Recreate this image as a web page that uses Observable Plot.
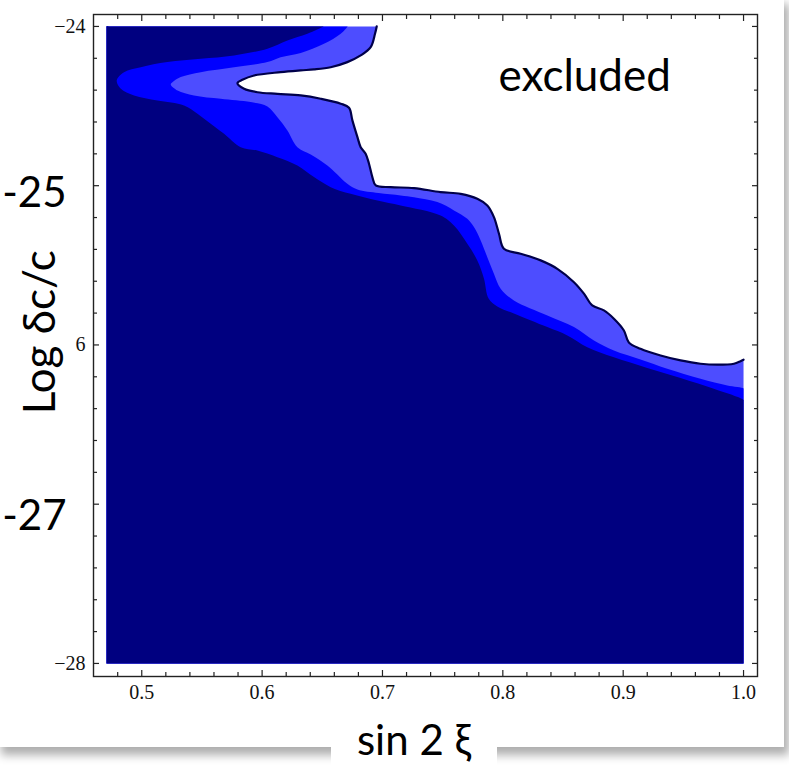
<!DOCTYPE html>
<html>
<head>
<meta charset="utf-8">
<script src="https://cdn.jsdelivr.net/npm/d3@7"></script>
<script src="https://cdn.jsdelivr.net/npm/@observablehq/plot@0.6"></script>
<style>
  html, body { margin: 0; padding: 0; background: #fff; }
  #wrap { position: relative; width: 789px; height: 765px; overflow: hidden; background: #fff; }
  #card { position: absolute; left: 0; top: 0; width: 784px; height: 747px; background: #fff;
          box-shadow: 3px 6px 9px 2px rgba(0,0,0,0.32); }
  #chart { position: absolute; left: 0; top: 0; }
  #xtitle { position: absolute; left: 331px; top: 719px; width: 166px; height: 46px; background: #fff;
            font-family: Lato, "Open Sans", sans-serif; font-size: 42px; line-height: 40px;
            text-align: center; color: #000; white-space: pre; }
</style>
</head>
<body>
<div id="wrap">
  <div id="card"></div>
  <div id="chart"></div>
  <div id="xtitle">sin 2 ξ</div>
</div>
<script>
// Extent of the computed region: sin 2ξ along x, Log δc/c along y
const xExtent = [0.4707, 1.0];
const yExtent = [-28, -24];

// Contour boundaries, traced from the top edge (y = -24) down to the right edge (x = 1).
// Below navyEdge: dark region; between navyEdge and blueEdge: blue band;
// between blueEdge and lightEdge: light band; beyond lightEdge: excluded.
const navyEdge = [
  [0.6512, -24.000], [0.6376, -24.046], [0.6210, -24.088], [0.6044, -24.140],
  [0.5767, -24.182], [0.5490, -24.203], [0.5213, -24.224], [0.4992, -24.256],
  [0.4853, -24.287], [0.4792, -24.339], [0.4826, -24.391], [0.4936, -24.433],
  [0.5130, -24.465], [0.5351, -24.496], [0.5463, -24.548], [0.5573, -24.611],
  [0.5684, -24.674], [0.5822, -24.758], [0.5961, -24.779], [0.6127, -24.821],
  [0.6293, -24.873], [0.6431, -24.946], [0.6570, -25.009], [0.6736, -25.051],
  [0.6958, -25.093], [0.7151, -25.124], [0.7483, -25.187], [0.7594, -25.250],
  [0.7705, -25.365], [0.7788, -25.469], [0.7843, -25.582], [0.7882, -25.708],
  [0.7954, -25.758], [0.8092, -25.802], [0.8370, -25.888], [0.8536, -25.940],
  [0.8702, -26.014], [0.8923, -26.078], [0.9200, -26.144], [0.9477, -26.207],
  [0.9753, -26.275], [1.0000, -26.345]
];

const blueEdge = [
  [0.6711, -24.000], [0.6653, -24.046], [0.6514, -24.109], [0.6321, -24.166],
  [0.6154, -24.193], [0.6044, -24.224], [0.5767, -24.256], [0.5490, -24.287],
  [0.5324, -24.318], [0.5255, -24.350], [0.5241, -24.364], [0.5297, -24.402],
  [0.5434, -24.433], [0.5656, -24.454], [0.5905, -24.475], [0.6044, -24.502],
  [0.6127, -24.570], [0.6210, -24.653], [0.6293, -24.758], [0.6404, -24.804],
  [0.6542, -24.873], [0.6625, -24.929], [0.6708, -24.988], [0.6792, -25.024],
  [0.6968, -25.046], [0.7151, -25.061], [0.7262, -25.072], [0.7456, -25.103],
  [0.7594, -25.155], [0.7705, -25.208], [0.7760, -25.260], [0.7816, -25.344],
  [0.7871, -25.449], [0.7926, -25.553], [0.7982, -25.647], [0.8092, -25.721],
  [0.8370, -25.815], [0.8591, -25.888], [0.8757, -25.972], [0.8923, -26.035],
  [0.9144, -26.091], [0.9366, -26.149], [0.9643, -26.212], [0.9865, -26.254],
  [1.0000, -26.273]
];

const lightEdge = [
  [0.6952, -24.000], [0.6938, -24.046], [0.6902, -24.130], [0.6819, -24.182],
  [0.6708, -24.224], [0.6570, -24.256], [0.6431, -24.270], [0.6321, -24.276],
  [0.6154, -24.287], [0.5933, -24.308], [0.5836, -24.335], [0.5795, -24.356],
  [0.5850, -24.391], [0.5961, -24.413], [0.6127, -24.423], [0.6321, -24.433],
  [0.6487, -24.454], [0.6653, -24.485], [0.6722, -24.511], [0.6750, -24.590],
  [0.6792, -24.695], [0.6819, -24.758], [0.6860, -24.799], [0.6888, -24.862],
  [0.6916, -24.946], [0.6944, -24.998], [0.7068, -25.009], [0.7262, -25.015],
  [0.7483, -25.040], [0.7650, -25.051], [0.7788, -25.082], [0.7871, -25.124],
  [0.7926, -25.197], [0.7968, -25.302], [0.8009, -25.396], [0.8148, -25.427],
  [0.8314, -25.469], [0.8453, -25.522], [0.8591, -25.606], [0.8674, -25.678],
  [0.8743, -25.752], [0.8840, -25.783], [0.8923, -25.835], [0.9006, -25.909],
  [0.9047, -25.984], [0.9144, -26.024], [0.9311, -26.066], [0.9477, -26.097],
  [0.9643, -26.118], [0.9782, -26.124], [0.9920, -26.118], [0.9975, -26.102],
  [1.0000, -26.093]
];

// Frame ticks
const xMajor = [0.5, 0.6, 0.7, 0.8, 0.9, 1.0];
const xMinor = [0.48, 0.52, 0.54, 0.56, 0.58, 0.62, 0.64, 0.66, 0.68, 0.72, 0.74,
                0.76, 0.78, 0.82, 0.84, 0.86, 0.88, 0.92, 0.94, 0.96, 0.98];
const yMajor = [-24, -25, -26, -27, -28];
const yMinor = [-24.2, -24.4, -24.6, -24.8, -25.2, -25.4, -25.6, -25.8,
                -26.2, -26.4, -26.6, -26.8, -27.2, -27.4, -27.6, -27.8];

// Tick labels on the y side: small frame labels and large slide labels
const ySmallTicks = [-24, -26, -28];
const ySmallText = ["\u221224", "6", "\u221228"];
const yBigTicks = [-25, -27];
const yBigText = ["-25", "-27"];

const NAVY = "#000080", BLUE = "#0000ff", LIGHT = "#4d4dff", EDGE = "#00004a", AXIS = "#222";
const BIG = "Lato, 'Open Sans', sans-serif";

// Close a boundary into a region that fills toward the lower-left corner.
// Short runs next to each corner keep the smoothed outline square there.
function region(edge) {
  const [x0, x1] = xExtent, [y0, y1] = yExtent;
  const first = edge[0], last = edge[edge.length - 1];
  const ex = 0.002, ey = 0.006;
  return [...edge,
    [x1, last[1] - ey], [x1, y0 + ey], [x1, y0], [x1 - ex, y0],
    [x0 + ex, y0], [x0, y0], [x0, y0 + ey],
    [x0, y1 - ey], [x0, y1], [x0 + ex, y1],
    [first[0] - ex, y1]];
}

const px = d => d[0], py = d => d[1];
const CURVE = "catmull-rom";

const chart = Plot.plot({
  width: 789,
  height: 722,
  marginLeft: 93,
  marginRight: 32,
  marginTop: 14,
  marginBottom: 46,
  style: {background: "transparent", fontFamily: "'Liberation Serif', 'Times New Roman', serif", fontSize: "20px", color: "#111"},
  x: {domain: [0.4599, 1.0116], label: null},
  y: {domain: [-28.082, -23.925], label: null},
  marks: [
    Plot.line(region(lightEdge), {x: px, y: py, fill: LIGHT, stroke: "none", curve: CURVE}),
    Plot.line(region(blueEdge), {x: px, y: py, fill: BLUE, stroke: "none", curve: CURVE}),
    Plot.line(region(navyEdge), {x: px, y: py, fill: NAVY, stroke: "none", curve: CURVE}),
    Plot.line(lightEdge, {x: px, y: py, stroke: EDGE, strokeWidth: 2.2, strokeLinejoin: "round", curve: CURVE}),
    Plot.frame({stroke: AXIS, strokeWidth: 1.4}),

    // inward ticks on all four sides
    Plot.axisX(xMajor, {anchor: "bottom", tickSize: -6, fill: "none", stroke: AXIS, strokeWidth: 1.2, label: null}),
    Plot.axisX(xMinor, {anchor: "bottom", tickSize: -4, fill: "none", stroke: AXIS, strokeWidth: 1.2, label: null}),
    Plot.axisX(xMajor, {anchor: "top", tickSize: -6, fill: "none", stroke: AXIS, strokeWidth: 1.2, label: null}),
    Plot.axisX(xMinor, {anchor: "top", tickSize: -4, fill: "none", stroke: AXIS, strokeWidth: 1.2, label: null}),
    Plot.axisY(yMajor, {anchor: "left", tickSize: -6, fill: "none", stroke: AXIS, strokeWidth: 1.2, label: null}),
    Plot.axisY(yMinor, {anchor: "left", tickSize: -4, fill: "none", stroke: AXIS, strokeWidth: 1.2, label: null}),
    Plot.axisY(yMajor, {anchor: "right", tickSize: -6, fill: "none", stroke: AXIS, strokeWidth: 1.2, label: null}),
    Plot.axisY(yMinor, {anchor: "right", tickSize: -4, fill: "none", stroke: AXIS, strokeWidth: 1.2, label: null}),

    // tick labels
    Plot.axisX(xMajor, {anchor: "bottom", tickSize: 0, tickPadding: 8, tickFormat: d => d.toFixed(1), fill: "#111", label: null}),
    Plot.axisY(ySmallTicks, {anchor: "left", tickSize: 0, tickPadding: 8, tickFormat: d => ySmallText[ySmallTicks.indexOf(d)], fill: "#111", label: null}),

    // large y labels
    Plot.text([0], {y: () => yBigTicks[0], text: () => yBigText[0], frameAnchor: "left", dx: -27, dy: 21,
      textAnchor: "end", lineAnchor: "bottom", fontFamily: BIG, fontSize: 42, fill: "#000"}),
    Plot.text([1], {y: () => yBigTicks[1], text: () => yBigText[1], frameAnchor: "left", dx: -27, dy: 26,
      textAnchor: "end", lineAnchor: "bottom", fontFamily: BIG, fontSize: 42, fill: "#000"}),

    // axis title and region label
    Plot.text(["Log δc/c"], {y: () => -25.92, frameAnchor: "left", dx: -39, rotate: -90,
      textAnchor: "middle", lineAnchor: "bottom", fontFamily: BIG, fontSize: 44, fill: "#000"}),
    Plot.text(["excluded"], {x: () => 0.868, y: () => -24.406, textAnchor: "middle", lineAnchor: "bottom",
      fontFamily: BIG, fontSize: 44, fill: "#000"})
  ]
});

document.getElementById("chart").appendChild(chart);
</script>
</body>
</html>
